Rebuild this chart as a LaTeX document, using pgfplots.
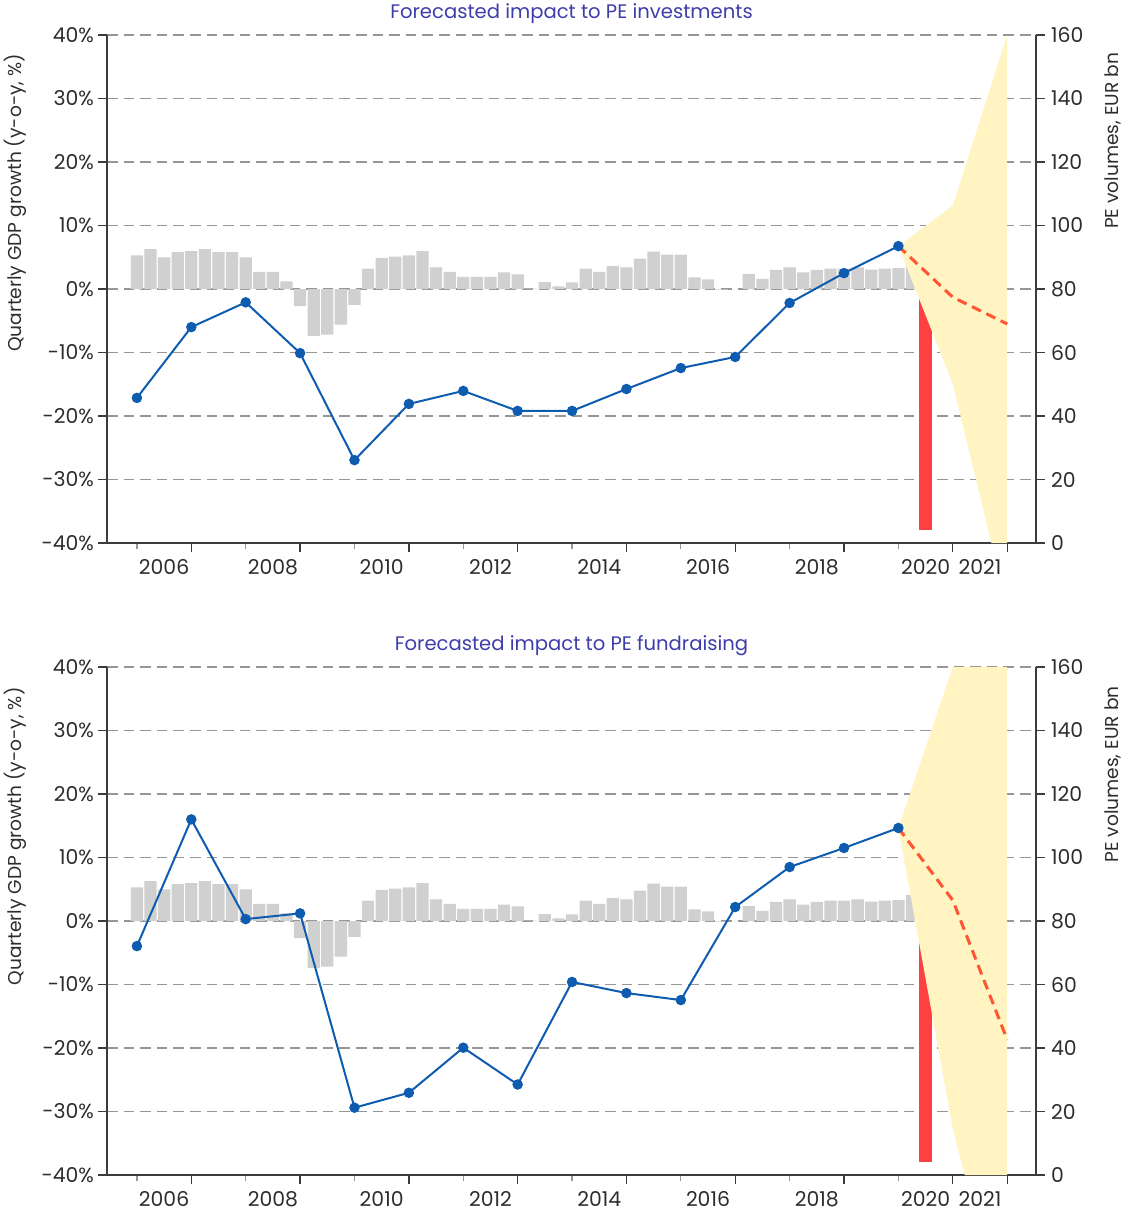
\documentclass[border=0pt]{standalone}
\usepackage{fontspec}
\setmainfont{Poppins}
\usepackage{pgfplots}
\pgfplotsset{compat=1.18}
\usepackage{pgfplotstable}
\definecolor{barg}{RGB}{208,208,208}
\definecolor{redbar}{RGB}{255,64,64}
\definecolor{yel}{RGB}{255,244,194}
\definecolor{blu}{RGB}{14,92,176}
\definecolor{dashc}{RGB}{255,85,50}
\definecolor{gridc}{RGB}{150,150,150}
\definecolor{axc}{RGB}{60,60,60}
\definecolor{titc}{RGB}{62,62,170}
\definecolor{txt}{RGB}{45,45,45}

\pgfplotstableread{
t v
2006.00 5.3
2006.25 6.3
2006.50 5.0
2006.75 5.8
2007.00 5.95
2007.25 6.3
2007.50 5.8
2007.75 5.8
2008.00 5.0
2008.25 2.7
2008.50 2.7
2008.75 1.2
2009.00 -2.7
2009.25 -7.4
2009.50 -7.2
2009.75 -5.6
2010.00 -2.5
2010.25 3.2
2010.50 4.9
2010.75 5.1
2011.00 5.3
2011.25 5.95
2011.50 3.4
2011.75 2.7
2012.00 1.9
2012.25 1.9
2012.50 1.9
2012.75 2.6
2013.00 2.3
2013.25 0.05
2013.50 1.1
2013.75 0.4
2014.00 1.05
2014.25 3.2
2014.50 2.7
2014.75 3.6
2015.00 3.4
2015.25 4.8
2015.50 5.9
2015.75 5.4
2016.00 5.4
2016.25 1.85
2016.50 1.5
2016.75 -0.1
2017.00 0.0
2017.25 2.4
2017.50 1.6
2017.75 3.0
2018.00 3.4
2018.25 2.6
2018.50 3.0
2018.75 3.2
2019.00 3.2
2019.25 3.4
2019.50 3.05
2019.75 3.2
2020.00 3.3
2020.25 4.1
}\gdp

\pgfplotstableread{
t v
2006 45.7
2007 68.0
2008 75.8
2009 59.8
2010 26.1
2011 43.8
2012 47.9
2013 41.6
2014 41.6
2015 48.5
2016 55.1
2017 58.6
2018 75.6
2019 85.0
2020 93.5
}\inv

\pgfplotstableread{
t v
2006 72.1
2007 112.0
2008 80.6
2009 82.4
2010 21.2
2011 25.9
2012 40.1
2013 28.5
2014 60.8
2015 57.3
2016 55.1
2017 84.4
2018 97.0
2019 103.0
2020 109.3
}\fund

\pgfplotsset{
  common/.style={
    width=464.5pt, height=254pt, scale only axis,
    xmin=2005.45, xmax=2022.53,
    anchor=south west,
    tick align=outside,
    axis line style={axc, line width=0.65pt, -},
    tick style={axc, line width=0.65pt},
    major tick length=4.5pt,
    ticklabel style={font=\fontsize{10.2}{12}\selectfont, text=txt},
  },
  leftax/.style={
    common,
    ymin=-40, ymax=40,
    axis x line*=bottom, axis y line*=left,
    ytick={-40,-30,...,40},
    yticklabels={-40\%,-30\%,-20\%,-10\%,0\%,10\%,20\%,30\%,40\%},
    yticklabel style={xshift=1.5pt},
    ymajorgrids,
    grid style={gridc, line width=0.65pt, dash pattern=on 5.3pt off 3pt},
    xtick={2007,2009,2011,2013,2015,2017,2019,2021,2022},
    xticklabels={},
    minor xtick={2006,2008,...,2020},
    minor tick length=2.8pt,
    minor tick style={gridc, line width=0.65pt},
    extra x ticks={2006.5,2008.5,2010.5,2012.5,2014.5,2016.5,2018.5,2020.5,2021.5},
    extra x tick labels={2006,2008,2010,2012,2014,2016,2018,2020,2021},
    extra x tick style={grid=none, tick style={draw=none}, xticklabel style={inner sep=2pt, yshift=-1.6pt}},
  },
  rightax/.style={
    common,
    ymin=0, ymax=160,
    axis y line*=right, axis x line=none,
    ytick={0,20,...,160},
    yticklabels={0,20,40,60,80,100,120,140,160},
    yticklabel style={xshift=-0.5pt},
  },
  grey bars/.style={ybar, bar shift=0pt, bar width=0.226, fill=barg, draw=none},
  red bar/.style={ybar, bar shift=0pt, bar width=0.228, fill=redbar, draw=none},
  pe line/.style={blu, line width=1pt, mark=*, mark size=2.1pt, mark options={fill=blu, draw=blu}},
  fc line/.style={dashc, line width=1.5pt, dash pattern=on 5pt off 3pt},
}
\tikzset{
  lab/.style={font=\fontsize{9.3}{11}\selectfont, text=txt, rotate=90},
  tit/.style={font=\fontsize{9.8}{12}\selectfont, text=titc},
}

\begin{document}
\begin{tikzpicture}
\useasboundingbox (-53.5pt,-334pt) rectangle (508.5pt,271.5pt);

% ---------- top chart ----------
\begin{axis}[leftax, at={(0pt,0pt)}]
  \addplot[grey bars] table[x=t, y=v] {\gdp};
  \addplot[red bar] coordinates {(2020.5,-38)};
\end{axis}
\begin{axis}[rightax, at={(0pt,0pt)}]
  \addplot[fill=yel, draw=none] coordinates {(2020,93.5) (2021,106.3) (2022,160) (2022,0) (2021.71,0) (2021,50) (2020,93.5)} -- cycle;
  \addplot[pe line] table[x=t, y=v] {\inv};
  \addplot[fc line] coordinates {(2020,93.5) (2021,77.4) (2022,69)};
\end{axis}

% ---------- bottom chart ----------
\begin{axis}[leftax, at={(0pt,-316pt)}]
  \addplot[grey bars] table[x=t, y=v] {\gdp};
  \addplot[red bar] coordinates {(2020.5,-38)};
\end{axis}
\begin{axis}[rightax, at={(0pt,-316pt)}]
  \addplot[fill=yel, draw=none] coordinates {(2020,109.3) (2021,160) (2022,160) (2022,0) (2021.22,0) (2021,14.4) (2020,109.3)} -- cycle;
  \addplot[pe line] table[x=t, y=v] {\fund};
  \addplot[fc line] coordinates {(2020,109.3) (2021,86.5) (2022,42.6)};
\end{axis}

% titles and axis labels
\node[tit] at (232.25pt,264.5pt) {Forecasted impact to PE investments};
\node[tit] at (232.25pt,-51.5pt) {Forecasted impact to PE fundraising};
\node[lab] at (-46pt,170pt) {Quarterly GDP growth (y-o-y, \%)};
\node[lab] at (-46pt,-146.75pt) {Quarterly GDP growth (y-o-y, \%)};
\node[lab] at (503pt,201pt) {PE volumes, EUR bn};
\node[lab] at (503pt,-115.75pt) {PE volumes, EUR bn};
\end{tikzpicture}
\end{document}
